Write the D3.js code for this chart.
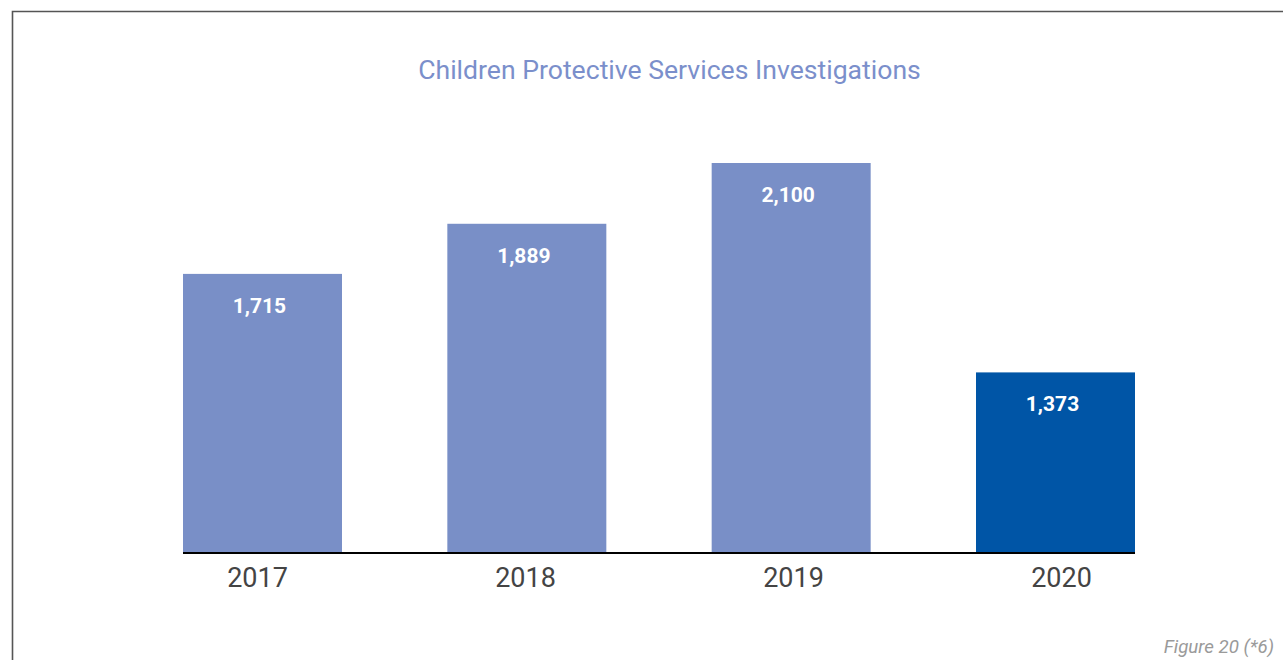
<!DOCTYPE html>
<html><head><meta charset="utf-8">
<script src="https://cdn.jsdelivr.net/npm/d3@7"></script>
<style>html,body{margin:0;padding:0;background:#fff;}svg{display:block;}</style>
</head><body>
<svg id="c" width="1283" height="660"></svg>
<script>
const years = ["2017", "2018", "2019", "2020"];
const investigations = [1715, 1889, 2100, 1373];
const barColors = ["#798fc7", "#798fc7", "#798fc7", "#0055a6"];
const title = "Children Protective Services Investigations";
const caption = "Figure 20 (*6)";

const svg = d3.select("#c");
// frame (left and top border)
svg.append("path").attr("d", "M12.5,660 V11.5 H1283").attr("fill", "none").attr("stroke", "#555").attr("stroke-width", 1.6);

const x = d3.scaleBand().domain(years).range([183, 1135]).paddingInner(0.3985).paddingOuter(0);
const xLab = d3.scalePoint().domain(years).range([257, 1061]);
const y = d3.scaleLinear().domain([746, 2100]).range([553, 163]);

svg.append("text").attr("x", 669.5).attr("y", 79).attr("text-anchor", "middle")
  .attr("font-family", "Roboto").attr("font-size", 26.6).attr("fill", "#7b8fcb").text(title);

const data = years.map((yr, i) => ({yr, v: investigations[i], c: barColors[i]}));
svg.selectAll("rect.bar").data(data).join("rect").attr("class", "bar")
  .attr("x", d => x(d.yr)).attr("width", x.bandwidth())
  .attr("y", d => y(d.v)).attr("height", d => y.range()[0] - y(d.v))
  .attr("fill", d => d.c);

svg.selectAll("text.lbl").data(data).join("text").attr("class", "lbl")
  .attr("x", d => x(d.yr) + x.bandwidth() / 2 - 3).attr("y", d => y(d.v) + 39)
  .attr("text-anchor", "middle").attr("font-family", "Roboto").attr("font-weight", "bold")
  .attr("font-size", 21).attr("fill", "#fff").text(d => d3.format(",")(d.v));

svg.append("line").attr("x1", x.range()[0]).attr("x2", x.range()[1])
  .attr("y1", 553).attr("y2", 553).attr("stroke", "#000").attr("stroke-width", 2);

const ax = svg.append("g").attr("transform", "translate(0,553)")
  .call(d3.axisBottom(xLab).tickSize(0).tickPadding(15));
ax.select(".domain").remove();
ax.selectAll("text").attr("font-family", "Roboto").attr("font-size", 27).attr("fill", "#444");

svg.append("text").attr("x", 1274).attr("y", 653).attr("text-anchor", "end")
  .attr("font-family", "Roboto").attr("font-style", "italic").attr("font-size", 18.7)
  .attr("fill", "#9a9a9a").text(caption);
</script>
</body></html>
